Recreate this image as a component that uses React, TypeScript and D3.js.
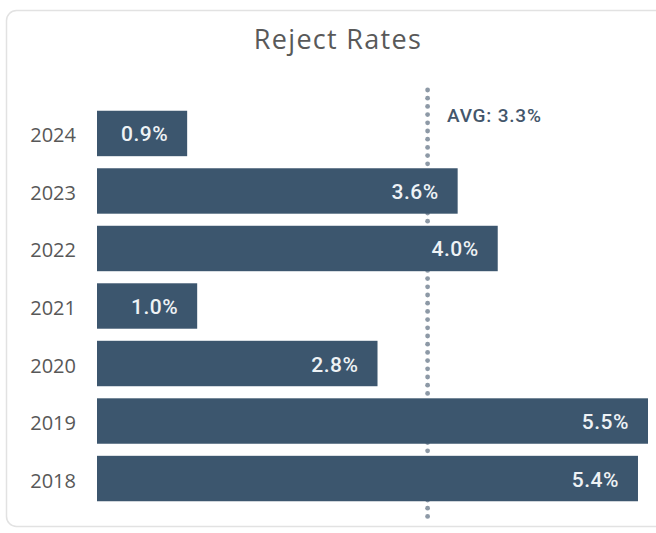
import React from "react";
import * as d3 from "d3";

const years = ["2024", "2023", "2022", "2021", "2020", "2019", "2018"];
const rates = [0.9, 3.6, 4.0, 1.0, 2.8, 5.5, 5.4];
const avgRate = 3.3;
const title = "Reject Rates";

const W = 656;
const H = 533;

export default function App() {
  const x = d3.scaleLinear().domain([0, 5.5]).range([97, 648]);
  const y = d3.scaleBand<string>().domain(years).range([105, 507]).paddingInner(0.21).paddingOuter(0.1);
  const barColor = "#3c566e";
  const ax = x(avgRate);
  const dots = d3.range(90, 520, 8.2);
  return (
    <svg width={W} height={H} style={{ position: "absolute", left: 0, top: 0, background: "#fff" }}>
      <rect x={6.5} y={10.5} width={W + 20} height={516} rx={10} fill="#fff" stroke="#e2e2e2" strokeWidth={1.5} />
      <text x={338} y={49} textAnchor="middle" fontFamily="'Open Sans', sans-serif" fontSize={27} letterSpacing={1.3} fill="#595959">
        {title}
      </text>
      {dots.map((d, i) => (
        <circle key={i} cx={ax} cy={d} r={2.4} fill="#8d99a6" />
      ))}
      <text x={447} y={122} fontFamily="Roboto, sans-serif" fontSize={19} fontWeight={500} letterSpacing={0.8} fill="#44566b">
        {`AVG: ${avgRate.toFixed(1)}%`}
      </text>
      {years.map((yr, i) => {
        const y0 = y(yr)!;
        const bw = y.bandwidth();
        const x1 = x(rates[i]);
        return (
          <g key={yr}>
            <text x={76} y={y0 + bw / 2 + 9} textAnchor="end" fontFamily="'Open Sans', sans-serif" fontSize={20} fill="#585858">
              {yr}
            </text>
            <rect x={x(0)} y={y0} width={x1 - x(0)} height={bw} fill={barColor} />
            <text x={x1 - 19} y={y0 + bw / 2 + 8} textAnchor="end" fontFamily="Roboto, sans-serif" fontWeight={500} fontSize={21} letterSpacing={0.5} fill="#eef2f5">
              {`${rates[i].toFixed(1)}%`}
            </text>
          </g>
        );
      })}
    </svg>
  );
}
